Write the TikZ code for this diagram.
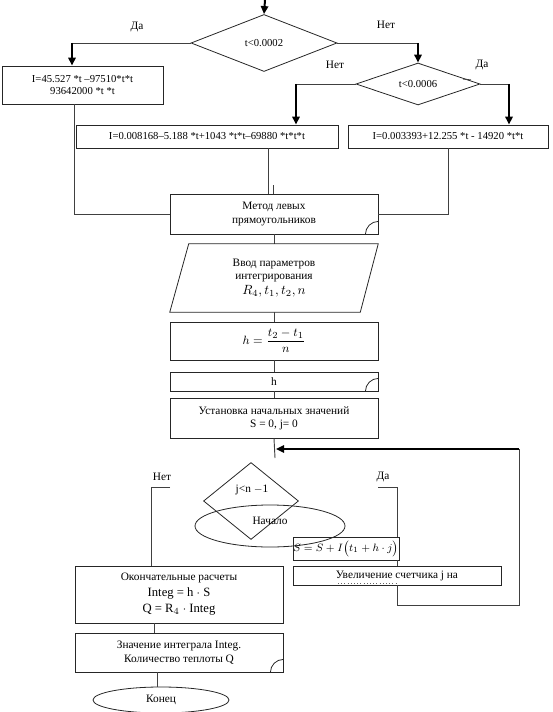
\documentclass[tikz,border=0pt]{standalone}
\usepackage{fontspec}
\setmainfont{Liberation Serif}
\usetikzlibrary{shapes.geometric,arrows.meta}
\begin{document}
\begin{tikzpicture}[x=0.75pt,y=-0.75pt,
  every node/.style={font=\fontsize{8}{9.5}\selectfont},
  box/.style={draw=black!85, line width=0.6pt, rectangle, inner sep=0pt, align=center},
  txt/.style={font=\fontsize{8.5}{10}\selectfont},
  dia/.style={draw=black!85, line width=0.6pt, diamond, inner sep=0pt, align=center},
  ell/.style={draw=black!85, line width=0.6pt, ellipse, inner sep=0pt, align=center},
  ln/.style={draw=black!75, line width=0.7pt},
  arr/.style={draw=black, line width=1.5pt, -{Triangle[length=6pt,width=5.5pt]}},
  lbl/.style={font=\fontsize{8.5}{10}\selectfont},
  corner/.style={draw=black!85, line width=0.6pt}
]
\useasboundingbox (0,0) rectangle (552,712);
% ---------- nodes ----------
\node[dia, minimum width=109.5pt, minimum height=42.75pt, shape aspect=2.5] (d1) at (264,43) {t<0.0002};
\node[box, minimum width=120.75pt, minimum height=28.5pt] (b1) at (82.5,85) {I=45.527 *t –97510*t*t\\93642000 *t *t};
\node[dia, minimum width=93pt, minimum height=31.5pt, shape aspect=2.9] (d2) at (418,84) {t<0.0006};
\node[box, minimum width=196.5pt, minimum height=17.25pt] (b2) at (207,136.5) {I=0.008168–5.188 *t+1043 *t*t–69880 *t*t*t};
\node[box, minimum width=150pt, minimum height=17.25pt] (b3) at (448,136.5) {I=0.003393+12.255 *t - 14920 *t*t};
\node[box, txt, minimum width=156pt, minimum height=30pt] (m) at (274,214) {Метод левых\\прямоугольников};
\node[rectangle, txt, inner sep=0pt, align=center, minimum width=156pt, minimum height=51pt] (par) at (274,278) {Ввод параметров\\интегрирования\\[1pt] \fontsize{10}{12}\selectfont $R_4, t_1, t_2, n$};
\node[box, minimum width=156pt, minimum height=28.5pt, font=\fontsize{9.5}{11}\selectfont] (hf) at (274,341) {$\displaystyle h=\frac{t_2-t_1}{n}$};
\node[box, txt, minimum width=156pt, minimum height=14.25pt] (hb) at (274,381.5) {h};
\node[box, txt, minimum width=156pt, minimum height=30pt] (u) at (274,418) {Установка начальных значений\\S = 0,\ j= 0};
\node[dia, minimum width=71.25pt, minimum height=57.75pt, shape aspect=1.2] (dj) at (251,501) {};
\node[txt] at (252,490) (djt) {j<n $-$1};
\node[ell, minimum width=112.5pt, minimum height=31.5pt] (nach) at (270,526) {};
\node[txt] at (270,521) (nacht) {Начало};
\node[box, minimum width=79.5pt, minimum height=17.25pt, font=\fontsize{7.9}{9.5}\selectfont] (s) at (346,548.5) {$S=S+I\bigl(t_1+h\cdot j\bigr)$};
\node[box, txt, minimum width=156pt, minimum height=14.25pt] (uv) at (397,575.5) {Увеличение счетчика j на};
\node[box, txt, minimum width=156pt, minimum height=42.75pt] (ok) at (179,594.5) {Окончательные расчеты\\[1.5pt] \fontsize{9.5}{11}\selectfont Integ = h $\cdot$ S\\[2.5pt] \fontsize{9.5}{11}\selectfont Q = R$_4$ $\cdot$ Integ};
\node[box, txt, minimum width=156pt, minimum height=29.25pt] (zn) at (179,652.5) {Значение интеграла Integ.\\[1pt]Количество теплоты Q};
\node[ell, txt, minimum width=102pt, minimum height=19.5pt] (kon) at (161,700) {Конец};
% ---------- labels ----------
\node[lbl] (l1) at (137,27) {Да};
\node[lbl] (l2) at (386,25) {Нет};
\node[lbl] (l3) at (335,65) {Нет};
\node[lbl] (l4) at (482,65) {Да};
\node[lbl] (l5) at (162,477) {Нет};
\node[lbl] (l6) at (383,477) {Да};
% ---------- coordinates ----------
\coordinate (top) at (265,0);
\coordinate (a1) at ([xshift=-7.875pt]b1.north);
\coordinate (a2) at ([xshift=66.75pt]b2.north);
\coordinate (a3) at ([xshift=45.75pt]b3.north);
\coordinate (lj) at (275,458);
\coordinate (lp) at (276,449);
\coordinate (yes) at (378,487);
\coordinate (no) at (170,487);
\coordinate (lb) at (397,605);
\coordinate (lt) at (519,449);
% ---------- connectors ----------
\draw[arr] (top) -- (d1.north);
\draw[ln] (d1.west) -- (d1.west -| a1);
\draw[arr] (d1.west -| a1) -- (a1);
\draw[ln] (d1.east) -- (d1.east -| d2.north);
\draw[arr] (d1.east -| d2.north) -- (d2.north);
\draw[ln] (d2.west) -- (d2.west -| a2);
\draw[arr] (d2.west -| a2) -- (a2);
\draw[ln] (d2.east) -- (d2.east -| a3);
\draw[arr] (d2.east -| a3) -- (a3);
\draw[ln] (463,79) -- (471,80);
\draw[ln] ([xshift=-6.375pt]b1.south) |- (m.west);
\draw[ln] ([xshift=45.75pt]b2.south) -- ([xshift=45.75pt]b2.south |- m.north);
\draw[ln] ([xshift=-0.75pt]m.north) -- ++(0,-9);
\draw[ln] (b3.south) |- (m.east);
\draw[ln] (m.south) -- (par.north);
\draw[draw=black!85, line width=0.6pt] ([xshift=14.25pt]par.north west) -- (par.north east) -- ([xshift=-13.5pt]par.south east) -- (par.south west) -- cycle;
\draw[ln] (par.south) -- (hf.north);
\draw[ln] (hf.south) -- (hb.north);
\draw[ln] (hb.south) -- (u.north);
\draw[ln] (u.south) -- (lj);
\draw[ln] (yes) -| ([xshift=38.25pt]s.north);
\draw[ln] ([xshift=38.25pt]s.south) -- (uv.north);
\draw[ln] (uv.south) -- (lb) -| (lt);
\draw[arr] (lt) -- (lp);
\draw[ln] (no) -| ([xshift=-21pt]ok.north);
\draw[ln] ([xshift=-18.75pt]ok.south) -- ([xshift=-18.75pt]zn.north);
\draw[ln] ([xshift=-16.5pt]zn.south) -- ([xshift=-16.5pt]zn.south |- kon.north);
\draw[black!60, dotted] (338,583) -- (396,583);
% ---------- corner marks ----------
\draw[corner] ([xshift=-9.75pt]m.south east) arc[start angle=180,end angle=90,radius=9.75pt];
\draw[corner] ([xshift=-9.75pt]hb.south east) arc[start angle=180,end angle=90,radius=9.75pt];
\draw[corner] ([xshift=-9.75pt]zn.south east) arc[start angle=180,end angle=90,radius=9.75pt];
\end{tikzpicture}
\end{document}
